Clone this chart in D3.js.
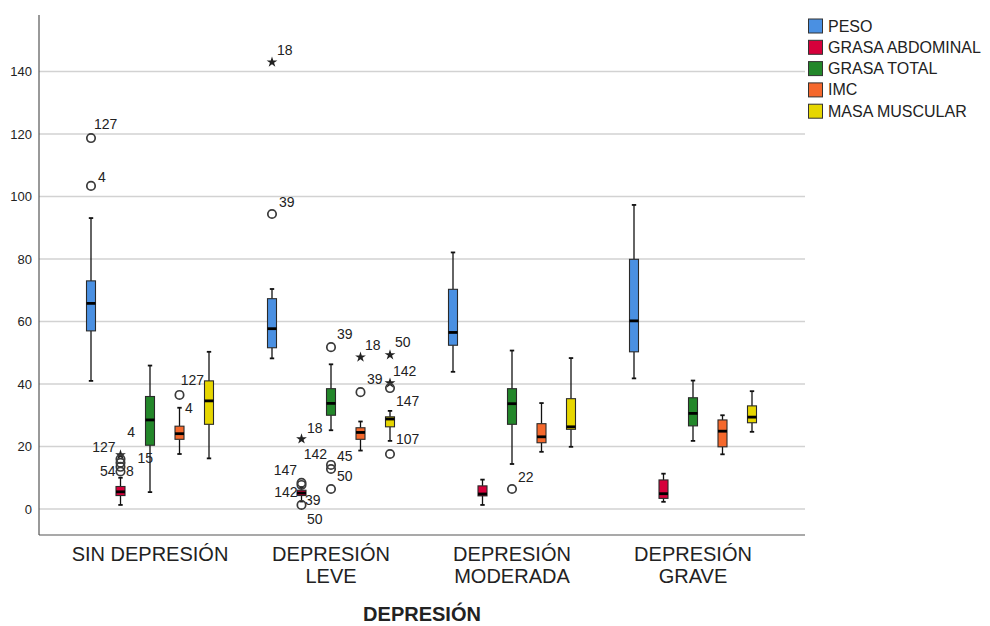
<!DOCTYPE html>
<html><head><meta charset="utf-8">
<script src="https://cdn.jsdelivr.net/npm/d3@7"></script>
<style>body{margin:0;background:#fff} text{font-family:"Liberation Sans",Arial,sans-serif;fill:#222}</style>
</head><body><svg id="c" width="990" height="626"></svg>
<script>
const categories = ["SIN DEPRESIÓN","DEPRESIÓN LEVE","DEPRESIÓN MODERADA","DEPRESIÓN GRAVE"];
const categoryLines = [["SIN DEPRESIÓN"],["DEPRESIÓN","LEVE"],["DEPRESIÓN","MODERADA"],["DEPRESIÓN","GRAVE"]];
const seriesNames = ["PESO","GRASA ABDOMINAL","GRASA TOTAL","IMC","MASA MUSCULAR"];
const seriesColors = ["#4a90e2","#d6003b","#23872a","#f5682c","#e6d600"];
const yTicks = [0,20,40,60,80,100,120,140];
const axisTitle = "DEPRESIÓN";
// per category: [lower whisker, Q1, median, Q3, upper whisker]
const peso           = [[41,57,65.8,73,93.1],[48.2,51.6,57.7,67.3,70.4],[43.9,52.4,56.5,70.3,82.1],[41.8,50.3,60.2,79.9,97.3]];
const grasaAbdominal = [[1.3,4.3,5.5,7.2,10],[2.4,4.3,5.1,6.0,6.8],[1.3,4.2,4.8,7.4,9.4],[2.3,3.4,4.9,9.3,11.3]];
const grasaTotal     = [[5.4,20.4,28.5,36,45.9],[25.2,30,33.8,38.5,46.3],[14.4,27.1,33.7,38.5,50.7],[21.8,26.6,30.6,35.6,41.1]];
const imc            = [[17.6,22.3,24.1,26.5,32.4],[18.7,22.3,24.5,26,28],[18.3,21.2,23.1,27.3,33.9],[17.5,19.9,24.9,28.5,30]];
const masaMuscular   = [[16.2,27.1,34.6,41,50.3],[21.8,26.3,28.8,29.5,31.4],[19.9,25.5,26.3,35.3,48.3],[24.7,27.6,29.4,33,37.7]];
const seriesStats = [peso, grasaAbdominal, grasaTotal, imc, masaMuscular];
// outliers: [category, series, value, symbol ("o" outlier, "*" extreme)]
const outliers = [
  [0,0,118.7,"o"],[0,0,103.4,"o"],
  [0,1,17.3,"*"],[0,1,16.0,"o"],[0,1,14.8,"o"],[0,1,13.5,"o"],[0,1,12.0,"o"],
  [0,3,36.5,"o"],
  [1,0,143,"*"],[1,0,94.4,"o"],
  [1,1,22.4,"*"],[1,1,8.4,"o"],[1,1,7.7,"o"],[1,1,1.3,"o"],
  [1,2,51.8,"o"],[1,2,14.1,"o"],[1,2,12.8,"o"],[1,2,6.4,"o"],
  [1,3,48.6,"*"],[1,3,37.4,"o"],
  [1,4,49.3,"*"],[1,4,40.3,"*"],[1,4,38.7,"o"],[1,4,17.6,"o"],
  [2,2,6.4,"o"]
];
// case labels: [category, series, value, text]
const caseLabels = [
  [0,0,118.7,"127"],[0,0,103.4,"4"],
  [0,1,17.3,"127"],[0,1,12.0,"54"],[0,1,12.0,"8"],
  [0,2,23.0,"4"],[0,2,14.7,"15"],
  [0,3,36.5,"4"],[0,4,39.7,"127"],
  [1,0,143,"18"],[1,0,94.4,"39"],
  [1,1,8.4,"147"],[1,1,7.7,"142"],[1,1,1.3,"39"],[1,1,1.3,"50"],[1,1,22.4,"18"],
  [1,2,14.1,"142"],[1,2,14.1,"45"],[1,2,12.8,"50"],[1,2,51.8,"39"],
  [1,3,48.6,"18"],[1,3,37.4,"39"],
  [1,4,49.3,"50"],[1,4,40.3,"142"],[1,4,38.7,"147"],[1,4,17.6,"107"],
  [2,2,6.4,"22"]
];
// label placement offsets (dx, dy, anchor) in the same order as caseLabels
const labelPlacement = [
  [3,-9,"start"],[7,-4,"start"],
  [-5,-3,"end"],[-5,4.5,"end"],[5.5,4,"start"],
  [-15,0,"end"],[3,0,"end"],
  [5.5,18,"start"],[-5,0,"end"],
  [5,-7,"start"],[7,-7,"start"],
  [-4.5,-8,"end"],[-4,12,"end"],[3.5,0,"start"],[5.5,19,"start"],[5.5,-6,"start"],
  [-4,-6,"end"],[6,-4,"start"],[6,12,"start"],[6,-8,"start"],
  [4.5,-7,"start"],[6.5,-8,"start"],
  [5,-8,"start"],[3,-7,"start"],[6,18,"start"],[6,-10,"start"],
  [6,-7,"start"]
];

const svg = d3.select("#c");
const plot = {left:39, right:805, top:15, bottom:535};
const x = d3.scaleBand().domain(categories).range([59.5, 783.5]);
const xs = d3.scaleBand().domain(seriesNames).range([-73.75, 73.75]);
const y = d3.scaleLinear().domain([-8.32, 158.08]).range([plot.bottom, plot.top]);
const cx = (c, s) => x(categories[c]) + x.bandwidth()/2 + xs(seriesNames[s]) + xs.bandwidth()/2;

// gridlines
svg.append("g").selectAll("line").data(yTicks).join("line")
  .attr("x1", plot.left).attr("x2", plot.right)
  .attr("y1", d => y(d)).attr("y2", d => y(d))
  .attr("stroke", "#d2d2d2").attr("stroke-width", 1.6);

// y axis
const yAxis = svg.append("g").attr("transform", `translate(${plot.left},0)`)
  .call(d3.axisLeft(y).tickValues(yTicks).tickSize(0).tickPadding(7));
yAxis.select(".domain").remove();
yAxis.selectAll("text").style("font-size","13px").style("font-family",'"Liberation Sans",Arial,sans-serif').attr("fill","#222");

// frame
svg.append("line").attr("x1",plot.left).attr("x2",plot.left).attr("y1",plot.top).attr("y2",plot.bottom).attr("stroke","#555").attr("stroke-width",1.2);
svg.append("line").attr("x1",plot.left).attr("x2",plot.right).attr("y1",plot.bottom).attr("y2",plot.bottom).attr("stroke","#555").attr("stroke-width",1.2);

// boxes
const boxes = [];
seriesStats.forEach((st, s) => st.forEach((d, c) => boxes.push({c, s, d})));
const bw = 9, cap = 2.2;
const g = svg.append("g");
boxes.forEach(b => {
  const px = cx(b.c, b.s);
  const [lo, q1, med, q3, hi] = b.d;
  const gg = g.append("g");
  gg.append("line").attr("x1",px).attr("x2",px).attr("y1",y(hi)).attr("y2",y(q3)).attr("stroke","#111").attr("stroke-width",1.3);
  gg.append("line").attr("x1",px).attr("x2",px).attr("y1",y(q1)).attr("y2",y(lo)).attr("stroke","#111").attr("stroke-width",1.3);
  gg.append("line").attr("x1",px-cap).attr("x2",px+cap).attr("y1",y(hi)).attr("y2",y(hi)).attr("stroke","#111").attr("stroke-width",1.8);
  gg.append("line").attr("x1",px-cap).attr("x2",px+cap).attr("y1",y(lo)).attr("y2",y(lo)).attr("stroke","#111").attr("stroke-width",1.8);
  gg.append("rect").attr("x",px-bw/2).attr("width",bw).attr("y",y(q3)).attr("height",y(q1)-y(q3))
    .attr("fill",seriesColors[b.s]).attr("stroke","#2a2a2a").attr("stroke-width",1.1);
  gg.append("line").attr("x1",px-bw/2).attr("x2",px+bw/2).attr("y1",y(med)).attr("y2",y(med)).attr("stroke","#000").attr("stroke-width",2.8);
});

// outliers
const star = d3.symbol().type(d3.symbolStar).size(36);
outliers.forEach(([c,s,v,sym]) => {
  const px = cx(c,s), py = y(v);
  if (sym === "o") {
    svg.append("circle").attr("cx",px).attr("cy",py).attr("r",4.2).attr("fill","none").attr("stroke","#3a3a3a").attr("stroke-width",1.7);
  } else {
    svg.append("path").attr("d",star()).attr("transform",`translate(${px},${py})`).attr("fill","#222");
  }
});

// case labels
caseLabels.forEach(([c,s,v,t], i) => {
  const [dx, dy, anchor] = labelPlacement[i];
  svg.append("text").attr("x", cx(c,s)+dx).attr("y", y(v)+dy).attr("text-anchor",anchor)
    .style("font-size","14px").text(t);
});

// category labels
categoryLines.forEach((lines, c) => {
  const t = svg.append("text").attr("text-anchor","middle").style("font-size","20px")
    .attr("x", x(categories[c]) + x.bandwidth()/2).attr("y", 561);
  lines.forEach((ln, i) => t.append("tspan").attr("x", x(categories[c]) + x.bandwidth()/2).attr("dy", i ? 22 : 0).text(ln));
});

svg.append("text").attr("x",422).attr("y",621).attr("text-anchor","middle")
  .style("font-size","20px").style("font-weight","bold").text(axisTitle);

// legend
const lg = svg.append("g");
seriesNames.forEach((n, i) => {
  const yy = 19 + i*21.3;
  lg.append("rect").attr("x",808.5).attr("y",yy).attr("width",14).attr("height",14)
    .attr("fill",seriesColors[i]).attr("stroke","#333").attr("stroke-width",1);
  lg.append("text").attr("x",828).attr("y",yy+12.5).style("font-size","16px").text(n);
});
</script></body></html>
